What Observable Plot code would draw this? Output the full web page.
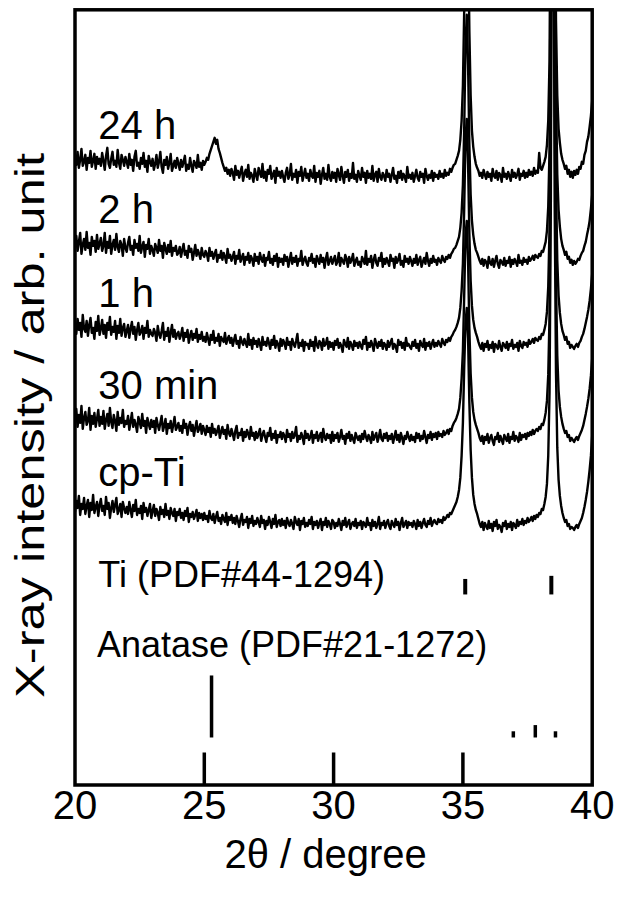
<!DOCTYPE html>
<html><head><meta charset="utf-8">
<script src="https://cdn.jsdelivr.net/npm/d3@7"></script>
<script src="https://cdn.jsdelivr.net/npm/@observablehq/plot@0.6"></script>
<style>html,body{margin:0;padding:0;background:#fff}</style>
</head><body><div id="chart"></div>
<script>
// 2θ sampling grid of the scans (20.00 ... 40.00 deg)
const twoThetaStart = 20, twoThetaStep = 0.05;
// sample names (bottom to top) and vertical offsets (arb. unit)
const samples = ["cp-Ti", "30 min", "1 h", "2 h", "24 h"];
const offsets = [177, 264, 356, 440, 524];

// intensities, one row per degree (20 points), then 34.00-34.55, 35° peak, 35.60-37.85, 37.90-40.00
const cpTi = [
96,107,100,112,93,104,99,110,94,102,108,91,105,98,113,95,101,106,92,103,
109,97,102,93,111,99,105,90,100,107,96,103,110,94,98,104,91,106,100,95,
101,94,106,98,91,103,97,108,93,99,95,102,89,105,96,100,92,98,104,90,
97,103,92,99,95,88,101,94,98,91,104,93,97,89,100,95,92,99,87,96,
93,99,90,95,88,97,92,100,86,94,91,96,89,93,98,87,95,90,94,88,
95,89,92,86,97,90,88,94,85,91,96,87,90,84,93,89,86,95,83,91,
88,93,85,90,84,92,87,81,89,94,83,88,86,91,80,89,85,92,82,87,
84,90,86,81,92,85,88,79,87,83,91,86,80,89,84,93,81,86,88,82,
89,83,87,80,90,85,82,88,84,79,91,86,83,89,78,87,84,90,81,85,
82,88,84,91,79,86,83,87,80,85,89,78,86,83,90,81,87,84,79,88,
86,80,85,82,89,84,78,87,83,90,81,85,88,79,84,86,82,89,80,85,
83,87,79,86,84,81,90,83,85,78,88,82,86,80,84,91,79,85,83,87,
80,85,88,82,79,87,84,81,89,83,86,78,85,90,81,84,87,80,86,83,
85,81,87,84,79,88,82,86,80,85,89,83,81,87,84,90,82,86,88,85,
84,89,86,88,85,91,88,90,93,91,95,94,
97,100,103,106,111,118,130,152,185,240,285,300,270,205,158,130,113,104,98,94,
89,84,81,86,78,85,82,79,87,80,84,77,86,82,88,79,83,81,76,85,82,87,79,84,81,86,78,85,83,80,88,82,86,84,89,83,87,85,90,86,88,91,87,92,89,93,
91,95,94,99,98,104,111,124,152,215,400,850,760,400,235,160,128,112,102,95,90,86,88,82,84,79,81,80,78,81,83,80,84,87,90,95,101,108,116,126,138,152,172];

const min30 = [
101,112,94,106,98,115,92,103,109,96,100,113,91,105,97,108,94,102,111,95,
104,97,110,92,101,107,95,113,99,93,106,100,90,109,96,103,98,111,94,100,
97,105,91,99,108,94,101,96,89,104,99,93,107,95,100,88,103,97,92,101,
94,100,88,103,96,91,98,105,90,95,102,87,97,93,100,89,96,104,91,94,
98,90,95,88,101,93,97,86,94,99,90,96,85,93,100,89,92,97,87,95,
91,86,95,89,93,84,97,88,92,86,90,95,83,89,94,87,91,82,96,88,
85,92,87,81,90,95,83,88,86,92,80,89,84,91,87,82,94,85,88,81,
89,83,87,92,80,86,90,84,79,88,85,93,81,87,83,90,78,86,84,89,
82,88,85,79,91,84,87,80,89,83,86,94,79,85,82,88,84,77,90,83,
87,81,84,90,78,86,83,89,80,85,88,79,92,84,81,87,83,86,78,89,
80,86,83,88,79,84,91,82,85,77,87,83,89,80,86,82,78,88,84,81,
85,79,87,82,90,84,80,86,83,78,89,81,85,88,79,84,91,82,80,87,
83,88,80,85,82,87,78,84,90,81,86,79,88,83,77,85,82,89,84,80,
86,81,84,79,88,83,87,80,85,82,90,84,78,86,83,89,81,87,84,88,
82,89,85,87,84,90,86,88,91,87,92,90,
95,98,100,103,107,112,123,142,170,225,285,300,260,192,147,123,109,101,96,92,
88,83,80,85,77,84,81,87,78,83,86,80,76,84,82,88,79,85,81,77,86,83,80,87,78,84,82,89,80,85,83,79,88,81,86,84,87,82,88,85,89,86,91,87,90,92,
90,94,92,97,96,101,108,120,146,205,400,860,770,410,240,165,130,114,104,97,92,88,90,84,86,80,83,81,79,82,84,81,85,88,91,95,101,107,114,122,132,145,162];

const h1 = [
103,95,110,99,106,92,114,100,97,108,93,104,111,96,101,90,107,98,113,94,
100,109,95,104,91,106,99,112,94,102,97,108,90,103,96,110,93,101,105,92,
98,104,91,100,107,95,102,89,99,106,94,97,103,90,101,96,108,92,99,95,
93,100,96,88,103,95,91,98,106,89,97,93,101,87,96,104,92,99,90,95,
97,90,94,101,88,96,92,99,86,93,98,89,95,91,100,87,94,90,97,88,
92,87,96,90,84,94,89,98,86,91,88,95,83,92,89,87,96,85,90,93,
86,91,83,89,94,85,88,81,92,87,84,90,86,82,95,84,89,80,91,85,
88,82,90,85,79,92,84,87,83,91,86,80,89,84,93,81,88,85,78,90,
83,89,86,80,91,84,87,79,90,85,82,88,95,81,86,83,89,78,87,84,
85,80,89,83,87,78,92,84,81,88,86,79,90,83,85,91,80,87,82,86,
79,88,84,90,81,86,83,77,89,85,82,91,80,87,84,79,88,83,86,81,
87,83,80,89,85,92,79,86,82,88,84,78,90,85,81,87,83,89,80,86,
84,79,88,82,86,90,80,85,83,77,89,84,87,81,86,79,91,83,85,82,
80,87,83,89,81,85,78,88,84,82,90,79,86,83,87,80,85,89,82,86,
83,88,85,82,90,86,84,89,87,91,88,92,
94,97,99,102,106,111,121,138,165,220,290,310,265,195,148,123,109,101,96,92,
87,83,80,86,78,85,82,88,79,84,81,87,77,85,83,80,88,82,78,86,84,81,87,79,85,83,89,80,84,82,86,78,88,83,81,87,84,86,82,89,85,87,90,86,91,89,
88,92,90,95,94,99,105,117,142,200,410,880,790,420,245,168,133,116,105,98,94,89,92,85,87,81,84,82,80,83,85,82,86,88,92,95,100,106,112,119,128,140,155];

const h2 = [
98,109,94,103,112,91,100,106,95,113,97,102,90,108,99,104,93,110,96,101,
107,94,99,112,92,103,97,109,91,100,105,95,111,98,93,104,100,89,106,97,
93,102,108,95,99,90,105,97,101,94,109,92,98,103,88,100,96,106,91,99,
95,89,101,97,92,105,94,99,87,102,96,91,100,93,104,89,97,94,99,90,
92,98,88,95,101,90,94,87,99,93,96,85,92,100,89,95,91,86,97,90,
88,94,91,84,97,89,93,86,91,95,83,90,87,94,85,92,88,82,96,87,
90,84,88,93,81,89,86,95,83,87,91,80,88,85,92,82,89,86,79,91,
84,88,81,92,86,83,90,79,87,85,93,82,86,80,89,84,91,78,87,83,
86,80,90,84,88,78,85,92,81,87,83,89,79,86,84,94,80,85,88,82,
79,87,84,91,82,86,78,89,85,81,90,83,87,77,86,92,80,84,88,81,
85,89,80,83,92,79,87,84,81,90,86,78,88,82,85,91,79,84,87,80,
83,78,88,85,81,94,80,86,83,89,77,85,90,82,79,87,84,92,78,86,
81,87,83,79,90,84,86,77,88,82,85,91,80,84,78,89,83,86,81,88,
84,79,86,82,90,80,85,88,78,83,87,81,92,84,79,86,82,89,83,85,
80,87,84,82,89,85,83,88,86,90,87,91,
93,96,97,100,104,108,117,132,160,215,300,330,280,200,150,124,110,101,95,92,
88,84,81,86,79,85,83,77,88,82,80,86,78,84,89,81,77,85,83,80,87,79,84,82,88,78,85,81,86,83,79,90,82,84,80,87,83,85,81,88,84,86,89,85,90,88,
87,91,89,94,93,98,103,114,138,195,420,900,820,430,250,170,135,118,106,99,95,90,93,86,88,82,85,80,84,81,83,86,85,89,92,94,99,103,110,116,124,136,150];

const h24 = [
104,96,109,93,101,112,95,99,106,91,103,98,110,94,100,107,92,104,97,102,
95,108,100,91,105,113,97,93,102,109,96,100,94,111,98,92,106,101,95,104,
99,93,107,96,101,90,104,110,95,98,92,103,97,108,94,100,89,105,99,95,
102,91,97,106,93,99,109,94,88,101,96,104,92,98,107,90,95,100,93,103,
97,91,101,94,99,105,90,96,92,103,95,89,100,97,93,106,94,98,91,100,
96,99,103,101,107,111,115,119,123,117,121,112,108,103,98,94,90,93,87,91,
85,92,88,81,95,86,90,83,89,94,80,87,91,84,96,82,88,85,79,92,
86,81,93,88,84,97,83,89,80,91,87,95,82,86,90,78,93,85,89,83,
90,84,79,88,93,82,86,97,81,87,84,91,78,89,85,94,80,86,92,83,
87,80,91,85,83,95,79,88,84,90,77,86,93,82,87,81,96,84,80,89,
83,88,79,92,86,81,94,85,78,89,84,91,80,87,83,98,82,86,79,90,
85,81,93,84,88,78,90,83,87,82,95,80,86,89,79,92,84,81,88,85,
80,91,84,87,79,86,93,82,85,78,89,83,90,81,87,84,79,94,83,86,
82,88,79,85,91,83,80,89,84,87,78,92,85,81,86,83,90,80,88,84,
86,82,90,84,87,83,91,85,88,86,92,89,
93,96,97,101,105,110,121,140,175,250,360,420,340,230,165,130,114,104,97,93,
90,85,88,83,91,86,82,89,84,87,80,92,85,83,90,81,88,86,79,93,84,87,82,89,85,80,91,84,88,83,86,92,81,87,85,90,83,88,84,91,86,89,85,93,87,90,
88,108,93,91,95,99,104,116,140,200,420,900,800,420,240,165,132,118,107,101,97,92,95,87,91,84,89,83,90,86,91,87,94,92,99,97,106,110,119,124,134,145,160];

const scans = [cpTi, min30, h1, h2, h24];

// reference patterns: peak positions (2θ) and relative intensities
const tiLabel = "Ti (PDF#44-1294)";
const tiPos = [35.09, 38.42];
const tiInt = [25, 30];
const anataseLabel = "Anatase (PDF#21-1272)";
const anatasePos = [25.28, 36.95, 37.80, 38.58];
const anataseInt = [100, 10, 20, 10];

const xTicks = [20, 25, 30, 35, 40];
const innerTicks = [25, 30, 35];
const xTitle = "2θ / degree";
const yTitle = "X-ray intensity / arb. unit";

const rows = [];
scans.forEach((vals, k) => vals.forEach((v, i) => rows.push({
  sample: samples[k],
  x: +(twoThetaStart + i * twoThetaStep).toFixed(2),
  y: v + offsets[k]
})));

const stickScale = 0.62;
const tiBase = 190, anataseBase = 47;

const plot = Plot.plot({
  width: 619, height: 908,
  marginLeft: 74.5, marginRight: 27.3, marginTop: 9.3, marginBottom: 123.5,
  x: {domain: [20, 40], label: null},
  y: {domain: [0, 775], axis: null, label: null},
  style: {fontFamily: "'Liberation Sans', Arial, sans-serif", color: "#000", background: "#fff"},
  marks: [
    Plot.line(rows, {x: "x", y: "y", z: "sample", stroke: "#000", strokeWidth: 2.4, strokeLinejoin: "round", clip: true}),
    Plot.text(samples, {x: 20.9, y: (d, i) => offsets[i] + 135, text: d => d, textAnchor: "start", lineAnchor: "middle", fontSize: 40, fill: "#000"}),
    Plot.text([tiLabel], {x: 20.9, y: 209, text: d => d, textAnchor: "start", lineAnchor: "middle", fontSize: 36, fill: "#000"}),
    Plot.text([anataseLabel], {x: 20.85, y: 139, text: d => d, textAnchor: "start", lineAnchor: "middle", fontSize: 36, fill: "#000"}),
    Plot.ruleX(tiPos, {x: d => d, y1: tiBase, y2: (d, i) => tiBase + tiInt[i] * stickScale, stroke: "#000", strokeWidth: 4}),
    Plot.ruleX(anatasePos, {x: d => d, y1: anataseBase, y2: (d, i) => anataseBase + anataseInt[i] * stickScale, stroke: "#000", strokeWidth: 3.5}),
    Plot.ruleX(innerTicks, {x: d => d, y1: 0, y2: 32, stroke: "#000", strokeWidth: 3.5}),
    Plot.axisX({ticks: xTicks, tickSize: 0, tickPadding: 6, fontSize: 40, label: null}),
    Plot.frame({stroke: "#000", strokeWidth: 3.5}),
    Plot.text([xTitle], {frameAnchor: "bottom", dy: 70, dx: -8, fontSize: 40, lineAnchor: "middle", textAnchor: "middle", fill: "#000"}),
    Plot.text([yTitle], {frameAnchor: "left", rotate: -90, dx: -44, dy: 28, fontSize: 40, lineAnchor: "middle", textAnchor: "middle", fill: "#000"})
  ]
});
d3.select(plot).selectAll("text")
  .filter(function () { return this.textContent === yTitle; })
  .attr("textLength", 545).attr("lengthAdjust", "spacingAndGlyphs");
document.getElementById("chart").appendChild(plot);
</script>
</body></html>
